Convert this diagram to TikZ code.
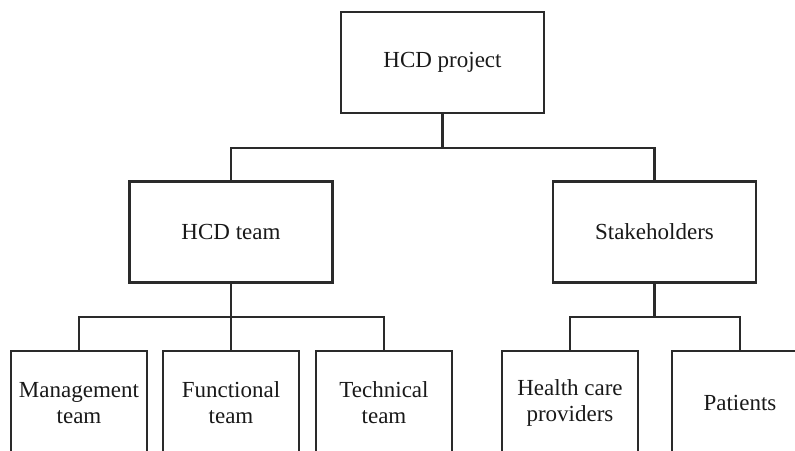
\documentclass[tikz,border=0pt]{standalone}
\usepackage{fontspec}
\setmainfont{Liberation Serif}
\definecolor{linec}{HTML}{2A2A2A}
\begin{document}
\begin{tikzpicture}[x=1pt,y=-1pt,
  box/.style={draw=linec, line width=2.1pt, inner sep=0pt, align=center,
    font=\fontsize{23}{26}\selectfont, text=black!90},
  midbox/.style={box, minimum width=203pt, minimum height=101pt},
  lowbox/.style={box, minimum width=136pt, minimum height=104pt},
  conn/.style={draw=linec, line width=2.1pt}]
\useasboundingbox (0,0) rectangle (795,450);
\clip (0,0) rectangle (795,450);
\node[midbox] (proj) at (442.5,62.5) {HCD project};
\node[midbox] (team) at (231,232) {HCD team};
\node[midbox] (stake) at (654.5,232) {Stakeholders};
\node[lowbox] (mgmt) at (79,403) {Management\\team};
\node[lowbox] (func) at (231,403) {Functional\\team};
\node[lowbox] (tech) at (384,403) {Technical\\team};
\node[lowbox] (hcp) at (570,403) {Health care\\providers};
\node[lowbox] (pat) at (740,403) {Patients};
\draw[conn] (proj.south) -- (proj.south |- 0,148) -| (team.north);
\draw[conn] (proj.south |- 0,148) -| (stake.north);
\draw[conn] (team.south) -- (team.south |- 0,317) -| (mgmt.north);
\draw[conn] (team.south |- 0,317) -| (tech.north);
\draw[conn] (team.south |- 0,317) -- (func.north);
\draw[conn] (stake.south) -- (stake.south |- 0,317) -| (hcp.north);
\draw[conn] (stake.south |- 0,317) -| (pat.north);
\end{tikzpicture}
\end{document}
